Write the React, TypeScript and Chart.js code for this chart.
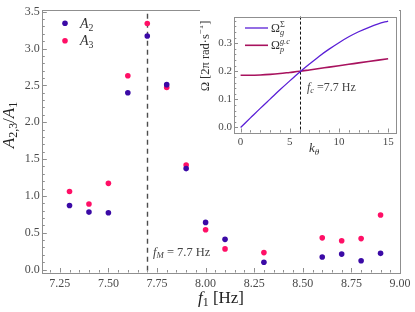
import React, { useEffect, useRef } from "react";
import { Chart, registerables } from "chart.js";
Chart.register(...registerables);

// ---- main chart data ----
const freqs = [7.3, 7.4, 7.5, 7.6, 7.7, 7.8, 7.9, 8.0, 8.1, 8.3, 8.6, 8.7, 8.8, 8.9];
const ratioA2 = [0.87, 0.78, 0.77, 2.4, 3.17, 2.51, 1.37, 0.64, 0.41, 0.1, 0.17, 0.21, 0.12, 0.22];
const ratioA3 = [1.06, 0.89, 1.17, 2.63, 3.34, 2.47, 1.42, 0.54, 0.28, 0.23, 0.43, 0.39, 0.42, 0.74];
const mainXTicks = [7.25, 7.5, 7.75, 8.0, 8.25, 8.5, 8.75, 9.0];
const mainYTicks = [0, 0.5, 1.0, 1.5, 2.0, 2.5, 3.0, 3.5];
const markerF = 7.7;

// ---- inset data ----
const kTheta = [0, 1, 2, 3, 4, 5, 6, 7, 8, 9, 10, 11, 12, 13, 14, 15];
const omegaG = [0.0, 0.034, 0.068, 0.101, 0.134, 0.166, 0.197, 0.226, 0.254, 0.279, 0.302, 0.323, 0.341, 0.356, 0.369, 0.379];
const omegaP = [0.186, 0.186, 0.187, 0.189, 0.192, 0.196, 0.2, 0.205, 0.21, 0.215, 0.22, 0.225, 0.23, 0.235, 0.24, 0.245];
const insetXTicks = [0, 5, 10, 15];
const insetYTicks = [0, 0.1, 0.2, 0.3];
const markerK = 6;

const BLUE = "#3b0aa6";
const PINK = "#ff0f66";
const LINE_BLUE = "#5a1fd6";
const LINE_PINK = "#a8125e";
const FRAME = "#8f8f8f";
const TICKTXT = "#4a4a4a";
const FAM = '"Liberation Serif", "DejaVu Serif", serif';

type Seg = { t: string; it?: boolean; pos?: "sub" | "sup"; stack?: boolean };

function fontStr(size: number, it?: boolean) {
  return `${it ? "italic " : ""}${size}px ${FAM}`;
}

function drawRich(ctx: CanvasRenderingContext2D, segs: Seg[], x: number, y: number, size: number, color: string, align: "left" | "center" | "right", angle = 0) {
  ctx.save();
  ctx.translate(x, y);
  if (angle) ctx.rotate(angle);
  let cx = 0;
  const items: { s: Seg; x: number; sz: number; dy: number }[] = [];
  for (const s of segs) {
    const sz = s.pos ? size * 0.7 : size;
    ctx.font = fontStr(sz, s.it);
    const w = ctx.measureText(s.t).width;
    const dy = s.pos === "sub" ? size * 0.22 : s.pos === "sup" ? -size * 0.42 : 0;
    items.push({ s, x: cx, sz, dy });
    if (!s.stack) cx += w;
  }
  const x0 = align === "center" ? -cx / 2 : align === "right" ? -cx : 0;
  ctx.fillStyle = color;
  ctx.textAlign = "left";
  ctx.textBaseline = "alphabetic";
  for (const it of items) {
    ctx.font = fontStr(it.sz, it.s.it);
    ctx.fillText(it.s.t, x0 + it.x, it.dy + size * 0.33);
  }
  ctx.restore();
}

function drawFrameTicks(chart: any, xMinor: number, yMinor: number, major: number, minor: number) {
  const ctx: CanvasRenderingContext2D = chart.ctx;
  const { left, right, top, bottom } = chart.chartArea;
  const xs = chart.scales.x;
  const ys = chart.scales.y;
  ctx.save();
  ctx.strokeStyle = FRAME;
  ctx.lineWidth = 1;
  ctx.beginPath();
  const xStart = Math.ceil(xs.min / xMinor - 1e-9) * xMinor;
  for (let v = xStart; v <= xs.max + 1e-9; v += xMinor) {
    const isMajor = xs.ticks.some((t: any) => Math.abs(t.value - v) < xMinor / 10);
    const px = Math.round(xs.getPixelForValue(v)) + 0.5;
    ctx.moveTo(px, bottom);
    ctx.lineTo(px, bottom - (isMajor ? major : minor));
  }
  const yStart = Math.ceil(ys.min / yMinor - 1e-9) * yMinor;
  for (let v = yStart; v <= ys.max + 1e-9; v += yMinor) {
    const isMajor = ys.ticks.some((t: any) => Math.abs(t.value - v) < yMinor / 10);
    const py = Math.round(ys.getPixelForValue(v)) + 0.5;
    ctx.moveTo(left, py);
    ctx.lineTo(left + (isMajor ? major : minor), py);
  }
  ctx.stroke();
  ctx.strokeRect(Math.round(left) + 0.5, Math.round(top) + 0.5, Math.round(right - left), Math.round(bottom - top));
  ctx.restore();
}

function MainChart() {
  const ref = useRef<HTMLCanvasElement>(null);
  useEffect(() => {
    const plugin = {
      id: "mainDeco",
      beforeDatasetsDraw(chart: any) {
        const ctx: CanvasRenderingContext2D = chart.ctx;
        const { top, bottom } = chart.chartArea;
        const px = Math.round(chart.scales.x.getPixelForValue(markerF)) + 0.5;
        ctx.save();
        ctx.strokeStyle = "#4d4d4d";
        ctx.lineWidth = 1.4;
        ctx.setLineDash([5, 4]);
        ctx.beginPath();
        ctx.moveTo(px, top + 4);
        ctx.lineTo(px, bottom);
        ctx.stroke();
        ctx.restore();
        drawFrameTicks(chart, 0.05, 0.1, 4.5, 2.5);
      },
      afterDraw(chart: any) {
        const ctx: CanvasRenderingContext2D = chart.ctx;
        ctx.save();
        ctx.fillStyle = BLUE;
        ctx.beginPath();
        ctx.arc(65, 23.3, 2.8, 0, Math.PI * 2);
        ctx.fill();
        ctx.fillStyle = PINK;
        ctx.beginPath();
        ctx.arc(65, 40.7, 2.8, 0, Math.PI * 2);
        ctx.fill();
        ctx.restore();
        drawRich(ctx, [{ t: "A", it: true }, { t: "2", pos: "sub" }], 80, 23, 14, "#333", "left");
        drawRich(ctx, [{ t: "A", it: true }, { t: "3", pos: "sub" }], 80, 40.5, 14, "#333", "left");
        drawRich(ctx, [{ t: "f", it: true }, { t: "M", it: true, pos: "sub" }, { t: " = 7.7 Hz" }], 153, 251.5, 12.5, "#444", "left");
        drawRich(ctx, [{ t: "A", it: true }, { t: "2,3", pos: "sub" }, { t: "/" }, { t: "A", it: true }, { t: "1", pos: "sub" }], 8, 125, 17, "#222", "center", -Math.PI / 2);
        drawRich(ctx, [{ t: "f", it: true }, { t: "1", pos: "sub" }, { t: " [Hz]" }], 221, 297, 17, "#222", "center");
      },
    };
    const chart = new Chart(ref.current as HTMLCanvasElement, {
      type: "scatter",
      data: {
        datasets: [
          { label: "A2", data: freqs.map((f, i) => ({ x: f, y: ratioA2[i] })), backgroundColor: BLUE, borderWidth: 0, pointRadius: 2.8 },
          { label: "A3", data: freqs.map((f, i) => ({ x: f, y: ratioA3[i] })), backgroundColor: PINK, borderWidth: 0, pointRadius: 2.8 },
        ],
      },
      options: {
        animation: false,
        responsive: false,
        devicePixelRatio: 1,
        layout: { padding: { left: 0, right: 15, top: 6.5, bottom: 0 } },
        plugins: { legend: { display: false }, tooltip: { enabled: false } },
        scales: {
          x: {
            type: "linear",
            min: 7.16,
            max: 9.0,
            grid: { display: false, drawTicks: false },
            border: { display: false },
            afterBuildTicks: (s: any) => { s.ticks = mainXTicks.map((v) => ({ value: v })); },
            afterFit: (s: any) => { s.height = 39.5; },
            ticks: { autoSkip: false, maxRotation: 0, padding: 4, color: TICKTXT, font: { family: FAM, size: 12 }, callback: (v: any) => Number(v).toFixed(2) },
          },
          y: {
            type: "linear",
            min: -0.04,
            max: 3.527,
            grid: { display: false, drawTicks: false },
            border: { display: false },
            afterBuildTicks: (s: any) => { s.ticks = mainYTicks.map((v) => ({ value: v })); },
            afterFit: (s: any) => { s.width = 42.3; },
            ticks: { autoSkip: false, padding: 2.5, color: TICKTXT, font: { family: FAM, size: 12 }, callback: (v: any) => Number(v).toFixed(1) },
          },
        },
      },
      plugins: [plugin],
    } as any);
    return () => chart.destroy();
  }, []);
  return <canvas ref={ref} width={415} height={312} style={{ position: "absolute", left: 0, top: 0 }} />;
}

function InsetChart() {
  const ref = useRef<HTMLCanvasElement>(null);
  useEffect(() => {
    const plugin = {
      id: "insetDeco",
      beforeDraw(chart: any) {
        const ctx: CanvasRenderingContext2D = chart.ctx;
        ctx.save();
        ctx.fillStyle = "#ffffff";
        ctx.fillRect(0, 0, chart.width, chart.height);
        ctx.restore();
      },
      beforeDatasetsDraw(chart: any) {
        const ctx: CanvasRenderingContext2D = chart.ctx;
        const { top, bottom } = chart.chartArea;
        const px = Math.round(chart.scales.x.getPixelForValue(markerK)) + 0.5;
        ctx.save();
        ctx.strokeStyle = "#111";
        ctx.lineWidth = 1;
        ctx.setLineDash([3, 2]);
        ctx.beginPath();
        ctx.moveTo(px, top);
        ctx.lineTo(px, bottom);
        ctx.stroke();
        ctx.restore();
        drawFrameTicks(chart, 1, 0.02, 4, 2.3);
      },
      afterDraw(chart: any) {
        const ctx: CanvasRenderingContext2D = chart.ctx;
        ctx.save();
        ctx.lineWidth = 1.3;
        ctx.strokeStyle = LINE_BLUE;
        ctx.beginPath();
        ctx.moveTo(45, 20);
        ctx.lineTo(68, 20);
        ctx.stroke();
        ctx.strokeStyle = LINE_PINK;
        ctx.lineWidth = 1.6;
        ctx.beginPath();
        ctx.moveTo(45, 37.3);
        ctx.lineTo(68, 37.3);
        ctx.stroke();
        ctx.restore();
        drawRich(ctx, [{ t: "Ω" }, { t: "g", it: true, pos: "sub", stack: true }, { t: "Σ", pos: "sup" }], 71, 20, 12, "#333", "left");
        drawRich(ctx, [{ t: "Ω" }, { t: "p", it: true, pos: "sub", stack: true }, { t: "g.c", it: true, pos: "sup" }], 71, 37.5, 12, "#333", "left");
        drawRich(ctx, [{ t: "f", it: true }, { t: "c", it: true, pos: "sub" }, { t: " =7.7 Hz" }], 107, 78.7, 12, "#444", "left");
        drawRich(ctx, [{ t: "Ω [2π rad·s" }, { t: "−1", pos: "sup" }, { t: "]" }], 4.5, 48, 12.5, "#333", "center", -Math.PI / 2);
        drawRich(ctx, [{ t: "k", it: true }, { t: "θ", it: true, pos: "sub" }], 114, 139.5, 13, "#333", "center");
      },
    };
    const chart = new Chart(ref.current as HTMLCanvasElement, {
      type: "line",
      data: {
        datasets: [
          { label: "g", data: kTheta.map((k, i) => ({ x: k, y: omegaG[i] })), borderColor: LINE_BLUE, borderWidth: 1.3, pointRadius: 0, cubicInterpolationMode: "monotone", fill: false },
          { label: "p", data: kTheta.map((k, i) => ({ x: k, y: omegaP[i] })), borderColor: LINE_PINK, borderWidth: 1.6, pointRadius: 0, cubicInterpolationMode: "monotone", fill: false },
        ],
      },
      options: {
        animation: false,
        responsive: false,
        devicePixelRatio: 1,
        layout: { padding: { left: 0, right: 3, top: 3.5, bottom: 0 } },
        plugins: { legend: { display: false }, tooltip: { enabled: false } },
        scales: {
          x: {
            type: "linear",
            min: -0.67,
            max: 15.8,
            grid: { display: false, drawTicks: false },
            border: { display: false },
            afterBuildTicks: (s: any) => { s.ticks = insetXTicks.map((v) => ({ value: v })); },
            afterFit: (s: any) => { s.height = 25.5; },
            ticks: { autoSkip: false, maxRotation: 0, padding: 3, color: TICKTXT, font: { family: FAM, size: 11 }, callback: (v: any) => String(v) },
          },
          y: {
            type: "linear",
            min: -0.018,
            max: 0.395,
            grid: { display: false, drawTicks: false },
            border: { display: false },
            afterBuildTicks: (s: any) => { s.ticks = insetYTicks.map((v) => ({ value: v })); },
            afterFit: (s: any) => { s.width = 34; },
            ticks: { autoSkip: false, padding: 2, color: TICKTXT, font: { family: FAM, size: 11 }, callback: (v: any) => Number(v).toFixed(1) },
          },
        },
      },
      plugins: [plugin],
    } as any);
    return () => chart.destroy();
  }, []);
  return <canvas ref={ref} width={199} height={150} style={{ position: "absolute", left: 200, top: 8 }} />;
}

export default function App() {
  return (
    <div style={{ position: "fixed", left: 0, top: 0, width: 415, height: 312, background: "#fff" }}>
      <MainChart />
      <InsetChart />
    </div>
  );
}
